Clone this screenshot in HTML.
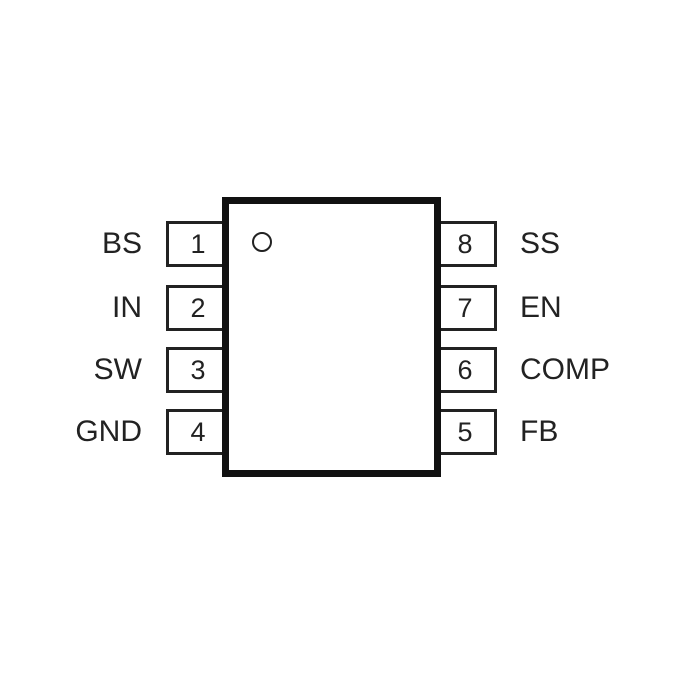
<!DOCTYPE html><html><head><style>
body{margin:0;width:700px;height:700px;background:#fff;position:relative;overflow:hidden;font-family:"Liberation Sans",sans-serif;color:#222}
.b{position:absolute;box-sizing:border-box}
.p{position:absolute;box-sizing:border-box;border:3px solid #222;width:64px;height:46px;font-size:27px;text-align:center;line-height:40px;background:#fff}
.l{position:absolute;font-size:30px;line-height:46px}
</style></head><body>
<div class="p" style="left:166px;top:221px">1</div>
<div class="p" style="left:166px;top:285px">2</div>
<div class="p" style="left:166px;top:347px">3</div>
<div class="p" style="left:166px;top:409px">4</div>
<div class="p" style="left:433px;top:221px">8</div>
<div class="p" style="left:433px;top:285px">7</div>
<div class="p" style="left:433px;top:347px">6</div>
<div class="p" style="left:433px;top:409px">5</div>
<div class="b" style="left:222px;top:197px;width:219px;height:280px;border:7px solid #111;background:#fff"></div>
<div class="b" style="left:252px;top:232px;width:20px;height:20px;border:2.5px solid #222;border-radius:50%"></div>
<div class="l" style="right:558px;top:221px">BS</div>
<div class="l" style="right:558px;top:285px">IN</div>
<div class="l" style="right:558px;top:347px">SW</div>
<div class="l" style="right:558px;top:409px">GND</div>
<div class="l" style="left:520px;top:221px">SS</div>
<div class="l" style="left:520px;top:285px">EN</div>
<div class="l" style="left:520px;top:347px">COMP</div>
<div class="l" style="left:520px;top:409px">FB</div>
</body></html>
